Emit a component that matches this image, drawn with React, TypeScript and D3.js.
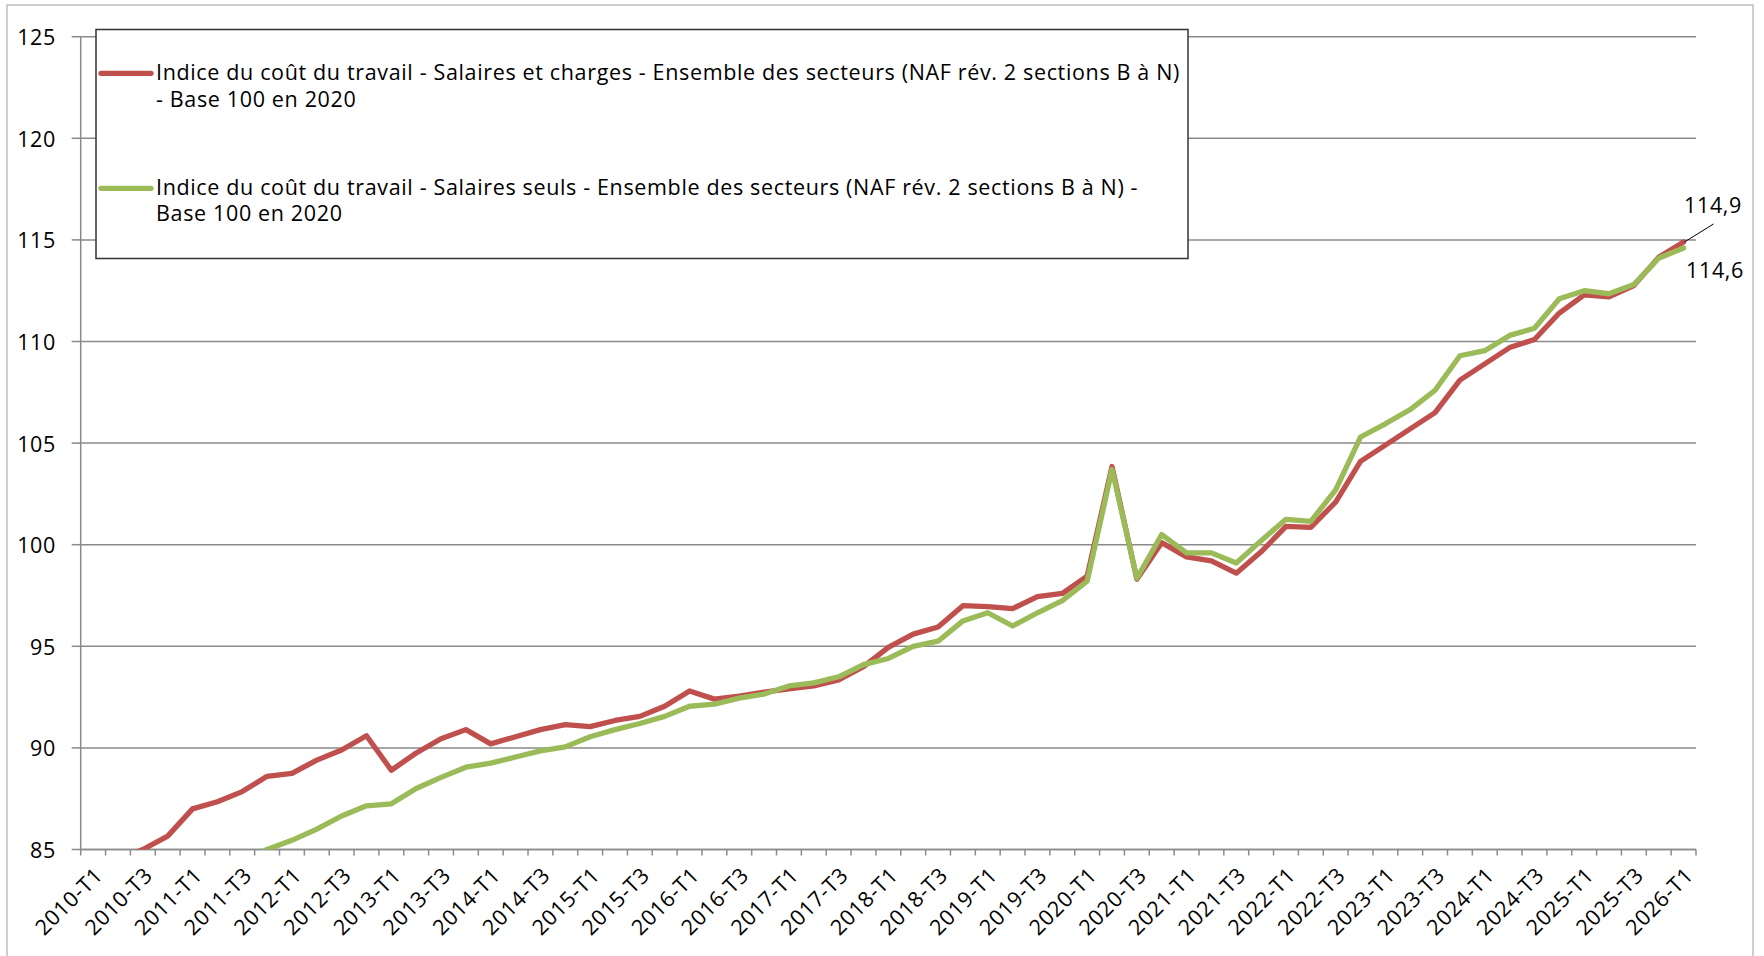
import React from "react";
import * as d3 from "d3";

// Quarterly categories 2010-T1 .. 2026-T1
const categories: string[] = d3.range(65).map((i) => `${2010 + Math.floor(i / 4)}-T${(i % 4) + 1}`);

// Indice du coût du travail - Salaires et charges (first values fall below the axis)
const salairesCharges: number[] = [
  84.0, 84.5, 85.0, 85.66, 87.0, 87.35, 87.85, 88.6, 88.75, 89.4,
  89.9, 90.6, 88.9, 89.75, 90.45, 90.9, 90.2, 90.55, 90.9, 91.15,
  91.05, 91.35, 91.55, 92.05, 92.8, 92.4, 92.55, 92.75, 92.9, 93.05,
  93.35, 94.0, 94.95, 95.6, 95.95, 97.0, 96.95, 96.85, 97.45, 97.6,
  98.45, 103.85, 98.3, 100.1, 99.4, 99.2, 98.6, 99.65, 100.9, 100.85,
  102.1, 104.1, 104.9, 105.7, 106.5, 108.1, 108.9, 109.7, 110.1, 111.4,
  112.3, 112.2, 112.75, 114.15, 114.9,
];

// Indice du coût du travail - Salaires seuls (first values fall below the axis and are not visible)
const salairesSeuls: number[] = [
  82.2, 82.5, 82.8, 83.2, 83.6, 84.0, 84.4, 85.0, 85.45, 86.0,
  86.65, 87.15, 87.25, 88.0, 88.55, 89.05, 89.25, 89.55, 89.85, 90.05,
  90.55, 90.9, 91.2, 91.55, 92.05, 92.15, 92.45, 92.65, 93.05, 93.2,
  93.5, 94.1, 94.4, 95.0, 95.25, 96.25, 96.65, 96.0, 96.65, 97.25,
  98.2, 103.7, 98.35, 100.5, 99.6, 99.6, 99.1, 100.2, 101.25, 101.15,
  102.7, 105.3, 105.95, 106.65, 107.6, 109.3, 109.55, 110.3, 110.65, 112.1,
  112.5, 112.35, 112.8, 114.1, 114.6,
];

const yTicks: number[] = [85, 90, 95, 100, 105, 110, 115, 120, 125];

const legendRed: string[] = [
  "Indice du coût du travail - Salaires et charges - Ensemble des secteurs (NAF rév. 2 sections B à N)",
  "- Base 100 en 2020",
];
const legendGreen: string[] = [
  "Indice du coût du travail - Salaires seuls - Ensemble des secteurs (NAF rév. 2 sections B à N) -",
  "Base 100 en 2020",
];

const lastRedLabel = "114,9";
const lastGreenLabel = "114,6";

const W = 1764;
const H = 956;
const FONT = "'Open Sans', Lato, sans-serif";
const FS = 21.5;
const LS = 0.65;
const RED = "#C0504D";
const GREEN = "#9BBB59";
const GRID = "#8a8a8a";

export default function App() {
  const left = 80.7;
  const right = 1696;
  const top = 36.7;
  const bottom = 849.5;

  const x = d3.scaleBand<string>().domain(categories).range([left, right]).padding(0);
  const y = d3.scaleLinear().domain([85, 125]).range([bottom, top]);
  const cx = (c: string) => (x(c) as number) + x.bandwidth() / 2;

  const line = d3
    .line<number>()
    .x((_, i) => cx(categories[i]))
    .y((d) => y(d));

  const boundaries = d3.range(categories.length + 1).map((i) => left + i * x.bandwidth());

  const lastC = categories[categories.length - 1];
  const endX = cx(lastC);
  const endRedY = y(salairesCharges[salairesCharges.length - 1]);

  return (
    <svg
      width={W}
      height={H}
      viewBox={`0 0 ${W} ${H}`}
      style={{ position: "absolute", left: 0, top: 0, background: "#fff" }}
      fontFamily={FONT}
      letterSpacing={LS}
    >
      <rect x={0} y={0} width={W} height={H} fill="#fff" />
      <rect x={7} y={5} width={1746} height={960} fill="#fff" stroke="#bfbfbf" strokeWidth={1.5} />
      <defs>
        <clipPath id="plotclip">
          <rect x={left} y={top} width={right - left} height={bottom - top} />
        </clipPath>
      </defs>

      {/* gridlines */}
      {yTicks.map((t) => (
        <line key={"g" + t} x1={left} x2={right} y1={y(t)} y2={y(t)} stroke={GRID} strokeWidth={1.5} />
      ))}
      {/* y axis */}
      <line x1={left} x2={left} y1={top} y2={bottom} stroke={GRID} strokeWidth={1.5} />
      {yTicks.map((t) => (
        <line key={"yt" + t} x1={left - 9} x2={left} y1={y(t)} y2={y(t)} stroke={GRID} strokeWidth={1.5} />
      ))}
      {yTicks.map((t) => (
        <text key={"yl" + t} x={56} y={y(t)} textAnchor="end" dominantBaseline="central" fontSize={FS} fill="#000">
          {t}
        </text>
      ))}

      {/* x axis */}
      <line x1={left} x2={right} y1={bottom} y2={bottom} stroke={GRID} strokeWidth={1.5} />
      {boundaries.map((b, i) => (
        <line key={"xt" + i} x1={b} x2={b} y1={bottom} y2={bottom + 6} stroke={GRID} strokeWidth={1.5} />
      ))}
      {categories.map((c, i) =>
        i % 2 === 0 ? (
          <text
            key={"xl" + c}
            transform={`translate(${cx(c) + 5},${bottom + 21}) rotate(-45)`}
            textAnchor="end"
            dominantBaseline="central"
            fontSize={FS}
            fill="#000"
          >
            {c}
          </text>
        ) : null
      )}

      {/* series */}
      <g clipPath="url(#plotclip)">
        <path d={line(salairesCharges) || ""} fill="none" stroke={RED} strokeWidth={5.3} strokeLinejoin="round" strokeLinecap="round" />
        <path d={line(salairesSeuls) || ""} fill="none" stroke={GREEN} strokeWidth={5.3} strokeLinejoin="round" strokeLinecap="round" />
      </g>

      {/* end labels */}
      <line x1={endX + 30} y1={endRedY - 18} x2={endX + 1} y2={endRedY} stroke="#000" strokeWidth={1} />
      <text x={1684} y={213} fontSize={FS} fill="#000">
        {lastRedLabel}
      </text>
      <text x={1686} y={278} fontSize={FS} fill="#000">
        {lastGreenLabel}
      </text>

      {/* legend */}
      <rect x={96} y={29.5} width={1092} height={229} fill="#fff" stroke="#333" strokeWidth={1.5} />
      <line x1={101} x2={151} y1={73.3} y2={73.3} stroke={RED} strokeWidth={5.3} strokeLinecap="round" />
      <line x1={101} x2={151} y1={188.3} y2={188.3} stroke={GREEN} strokeWidth={5.3} strokeLinecap="round" />
      {legendRed.map((s, i) => (
        <text key={"lr" + i} x={156} y={80 + i * 26.5} fontSize={FS} fill="#000">
          {s}
        </text>
      ))}
      {legendGreen.map((s, i) => (
        <text key={"lg" + i} x={156} y={194.5 + i * 26.5} fontSize={FS} fill="#000">
          {s}
        </text>
      ))}
    </svg>
  );
}
